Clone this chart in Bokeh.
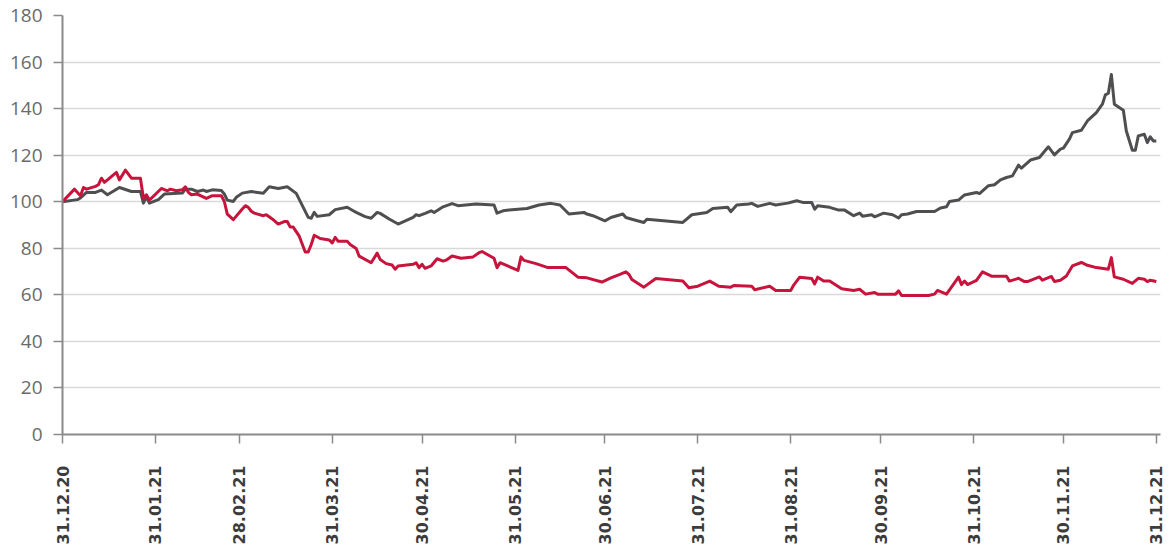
import math
import pandas as pd
from bokeh.plotting import figure
from bokeh.models import FixedTicker, DatetimeTickFormatter, Range1d
from bokeh.embed import file_html
from bokeh.resources import INLINE

# ---- data ----
start_date = "2020-12-31"

# days since 31.12.2020
gray_day = [0, 5, 6, 8, 11, 13, 15, 19, 23, 26, 27, 28, 29, 32, 34, 40, 41, 43, 45, 47,
            48, 50, 53, 54, 55, 57, 58, 60, 63, 67, 69, 72, 75, 78, 82, 83, 84, 85, 89, 91,
            95, 97, 98, 101, 103, 105, 106, 109, 112, 117, 118, 119, 121, 123, 124, 127, 130, 132, 138, 144,
            145, 147, 149, 155, 159, 163, 166, 169, 174, 175, 177, 181, 183, 187, 188, 190, 194, 195, 207, 210,
            215, 217, 222, 223, 225, 229, 230, 232, 236, 238, 242, 245, 247, 250, 251, 252, 256, 259, 261, 264,
            266, 267, 270, 271, 274, 277, 279, 280, 282, 285, 291, 293, 295, 296, 299, 301, 305, 306, 309, 311,
            313, 315, 317, 319, 320, 323, 326, 328, 329, 331, 333, 334, 336, 337, 340, 342, 345, 347, 348, 349,
            350, 351, 354, 355, 357, 358, 359, 361, 362, 363, 364, 365]
gray_val = [100, 100.9, 101.6, 104, 104, 105, 103, 106.1, 104.4, 104.4, 99.4, 102.1, 99.4, 100.9, 103.3, 103.7, 105.4, 105.4, 104.4, 105,
            104.4, 105.1, 104.8, 103.3, 100.7, 100.1, 101.9, 103.7, 104.4, 103.6, 106.4, 105.7, 106.4, 103.6, 93.3, 92.9, 95.4, 93.7, 94.4, 96.6,
            97.6, 96.1, 95.4, 93.6, 92.9, 95.4, 95, 92.6, 90.4, 93.3, 94.4, 94, 95, 96.1, 95.4, 97.8, 99.2, 98.3, 99, 98.6,
            95.1, 96.1, 96.4, 97.1, 98.6, 99.3, 98.6, 94.7, 95.4, 94.7, 94, 91.8, 93.2, 94.7, 93.2, 92.5, 91.1, 92.5, 91.1, 94.4,
            95.4, 97.1, 97.6, 95.7, 98.6, 99, 99.3, 98, 99.3, 98.6, 99.4, 100.4, 99.7, 99.7, 96.8, 98.3, 97.6, 96.4, 96.4, 94,
            95.1, 93.8, 94.4, 93.5, 95.1, 94.4, 93, 94.4, 94.7, 95.8, 95.8, 97.3, 97.8, 100.1, 100.7, 102.9, 104, 103.5, 106.9, 107.3,
            109.4, 110.4, 111.1, 115.7, 114.4, 117.9, 119, 122.1, 123.6, 120.1, 122.6, 123, 126.9, 129.7, 130.7, 134.7, 138.3, 141.9, 145.9, 146.6,
            154.7, 141.9, 139.3, 130.4, 122.1, 122.1, 128.3, 129, 125.4, 127.9, 126.1, 126.1]

red_day = [0, 4, 6, 7, 8, 11, 12, 13, 14, 18, 19, 21, 23, 26, 27, 28, 29, 33, 35, 36,
           38, 40, 41, 42, 43, 45, 48, 50, 53, 54, 55, 57, 60, 61, 62, 63, 64, 67, 68, 70,
           72, 74, 75, 76, 77, 79, 81, 82, 83, 84, 86, 89, 90, 91, 92, 95, 96, 98, 99, 103,
           105, 106, 108, 110, 111, 112, 117, 118, 119, 120, 121, 123, 125, 127, 128, 130, 133, 137, 139, 140,
           144, 145, 146, 152, 153, 154, 158, 162, 168, 172, 175, 180, 183, 186, 188, 189, 190, 194, 198, 207,
           209, 212, 216, 219, 223, 224, 230, 231, 236, 238, 243, 244, 246, 250, 251, 252, 254, 256, 260, 264,
           266, 268, 271, 272, 278, 279, 280, 289, 291, 292, 295, 299, 300, 301, 302, 305, 307, 310, 315, 316,
           319, 321, 322, 326, 327, 330, 331, 333, 335, 337, 340, 342, 345, 349, 350, 351, 354, 357, 359, 361,
           362, 363, 365]
red_val = [100, 105.4, 102.6, 106.1, 105.4, 106.6, 107.3, 110.1, 108.3, 112.6, 109.4, 113.6, 110.1, 110.1, 101.6, 103, 100.7, 105.7, 104.7, 105.4,
           104.7, 105.1, 106.4, 104, 103, 103.3, 101.4, 102.6, 102.6, 100.1, 94.7, 92.3, 96.9, 98.3, 97.6, 95.9, 95.1, 94, 94.4, 92.6,
           90.4, 91.5, 91.5, 89.1, 89.1, 85.2, 78.4, 78.4, 81.6, 85.6, 84.2, 83.6, 82.3, 84.7, 83, 83, 81.6, 79.9, 76.6, 73.8,
           77.9, 75.2, 73.4, 72.8, 71, 72.4, 73.1, 73.8, 71.7, 73.1, 71.4, 72.4, 75.5, 74.5, 74.9, 76.7, 75.7, 76.3, 78.1, 78.6,
           75.7, 71.7, 73.8, 70.5, 76.3, 74.8, 73.4, 71.7, 71.7, 67.6, 67.3, 65.5, 67.3, 68.8, 69.9, 68.8, 66.6, 63.3, 67, 65.9,
           63, 63.7, 65.9, 63.7, 63.3, 64, 63.7, 62.2, 63.7, 61.9, 61.9, 64.2, 67.6, 67, 64.7, 67.6, 65.9, 65.9, 62.6, 61.9,
           62.4, 60.3, 61, 60.3, 60.3, 61.7, 59.7, 59.7, 60.3, 61.9, 60.3, 67.6, 64.4, 65.9, 64.4, 66.2, 69.9, 68, 68, 65.9,
           67.1, 65.7, 65.7, 67.7, 66.3, 67.9, 65.7, 66.3, 68.1, 72.4, 73.9, 72.7, 71.7, 71, 76, 67.7, 66.7, 64.9, 67.1, 66.7,
           65.7, 66.3, 65.7]

x_tick_labels = ["31.12.20", "31.01.21", "28.02.21", "31.03.21", "30.04.21", "31.05.21", "30.06.21",
                 "31.07.21", "31.08.21", "30.09.21", "31.10.21", "30.11.21", "31.12.21"]
y_ticks = [0, 20, 40, 60, 80, 100, 120, 140, 160, 180]

# ---- build ----
t0 = pd.Timestamp(start_date)
gx = t0 + pd.to_timedelta(gray_day, unit="D")
rx = t0 + pd.to_timedelta(red_day, unit="D")
tick_dates = pd.to_datetime(x_tick_labels, format="%d.%m.%y")
tick_ms = [d.timestamp() * 1000.0 for d in tick_dates]

p = figure(width=1165, height=554, output_backend="svg", toolbar_location=None,
           x_axis_type="datetime",
           x_range=Range1d(t0, tick_dates[-1] + pd.Timedelta(days=1.4)),
           y_range=Range1d(0, 180),
           min_border_left=62, min_border_right=5, min_border_top=15, min_border_bottom=120)
p.outline_line_color = None
p.background_fill_color = "white"

p.line(gx, gray_val, line_color="#4f4f51", line_width=3, line_join="round")
p.line(rx, red_val, line_color="#c8143c", line_width=3, line_join="round")

# grid
p.xgrid.grid_line_color = None
p.ygrid.grid_line_color = "#d9d9d9"
p.ygrid.grid_line_width = 1.5

# y axis
p.yaxis.ticker = FixedTicker(ticks=y_ticks)
p.yaxis.axis_line_color = "#8a8a8a"
p.yaxis.axis_line_width = 2
p.yaxis.major_tick_line_color = "#8a8a8a"
p.yaxis.major_tick_line_width = 1.5
p.yaxis.major_tick_out = 9
p.yaxis.major_tick_in = 0
p.yaxis.minor_tick_line_color = None
p.yaxis.major_label_text_font = "Open Sans"
p.yaxis.major_label_text_font_size = "19px"
p.yaxis.major_label_text_color = "#6a6a6a"
p.yaxis.major_label_standoff = 11

# x axis
p.xaxis.ticker = FixedTicker(ticks=tick_ms)
fmt = "%d.%m.%y"
p.xaxis.formatter = DatetimeTickFormatter(
    microseconds=fmt, milliseconds=fmt, seconds=fmt, minsec=fmt, minutes=fmt,
    hourmin=fmt, hours=fmt, days=fmt, months=fmt, years=fmt, context=None)
p.xaxis.axis_line_color = "#8a8a8a"
p.xaxis.axis_line_width = 2
p.xaxis.major_tick_line_color = "#8a8a8a"
p.xaxis.major_tick_line_width = 1.5
p.xaxis.major_tick_out = 9
p.xaxis.major_tick_in = 0
p.xaxis.minor_tick_line_color = None
p.xaxis.major_label_orientation = math.pi / 2
p.xaxis.major_label_text_font = "DejaVu Sans"
p.xaxis.major_label_text_font_style = "bold"
p.xaxis.major_label_text_font_size = "16px"
p.xaxis.major_label_text_color = "#3c3c3c"
p.xaxis.major_label_standoff = 22

open("out.html", "w").write(file_html(p, INLINE))
